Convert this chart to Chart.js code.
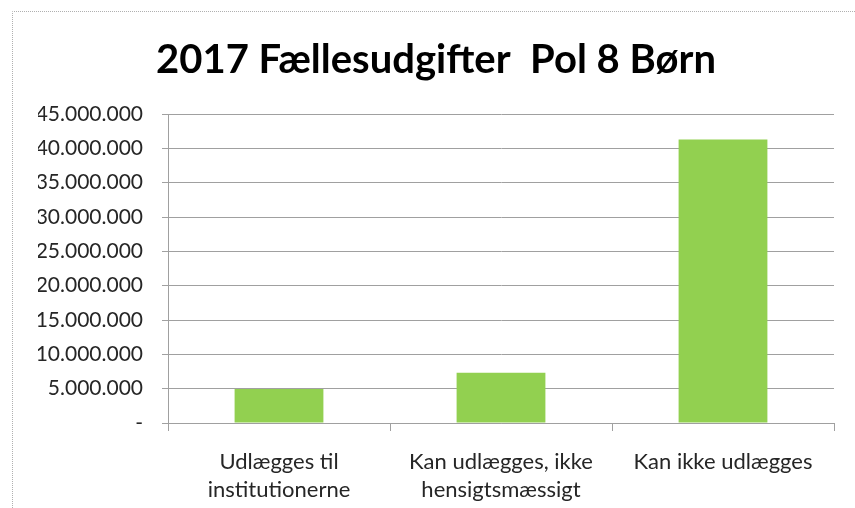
<!DOCTYPE html>
<html>
<head>
<meta charset="utf-8">
<script src="https://cdn.jsdelivr.net/npm/chart.js@4"></script>
<style>
  html, body { margin: 0; padding: 0; background: #fff; }
  #wrap { width: 855px; height: 508px; position: relative; }
</style>
</head>
<body>
<div id="wrap"><canvas id="chart" width="855" height="508"></canvas></div>
<script>
// data
const categories = [
  ["Udlægges til", "institutionerne"],
  ["Kan udlægges, ikke", "hensigtsmæssigt"],
  ["Kan ikke udlægges"]
];
const amounts = [4950000, 7300000, 41300000];
const yMax = 45000000;
const yStep = 5000000;

// dots as thousand separators, zero shown as "-"
function fmt(v) {
  if (v === 0) return "-";
  return String(v).replace(/\B(?=(\d{3})+(?!\d))/g, ".");
}

// dotted frame like the excel chart border
const frame = {
  id: "frame",
  beforeDraw(chart) {
    const ctx = chart.ctx;
    ctx.save();
    ctx.strokeStyle = "#b0b0b0";
    ctx.lineWidth = 1;
    ctx.setLineDash([1, 1]);
    ctx.beginPath();
    ctx.moveTo(12.5, 508);
    ctx.lineTo(12.5, 11.5);
    ctx.lineTo(855, 11.5);
    ctx.stroke();
    ctx.restore();
  }
};

const gridCol = "#a0a0a0";

new Chart(document.getElementById("chart").getContext("2d"), {
  type: "bar",
  data: {
    labels: categories,
    datasets: [
      {
        data: amounts,
        backgroundColor: "#92D050",
        barPercentage: 0.4,
        categoryPercentage: 1.0
      }
    ]
  },
  options: {
    responsive: false,
    animation: false,
    layout: { padding: { left: 38, right: 21, top: 0, bottom: 0 } },
    plugins: {
      legend: { display: false },
      tooltip: { enabled: false },
      title: {
        display: true,
        text: "2017 Fællesudgifter  Pol 8 Børn",
        color: "#000",
        font: { family: "Lato", size: 40, weight: "bold" },
        padding: { top: 36, bottom: 30 }
      }
    },
    scales: {
      x: {
        grid: {
          display: true,
          offset: true,
          drawOnChartArea: false,
          tickLength: 8,
          color: gridCol
        },
        border: { color: gridCol },
        ticks: {
          color: "#262626",
          padding: 17,
          maxRotation: 0,
          font: { family: "Lato", size: 22, lineHeight: 1.27 }
        },
        afterFit: (scale) => { scale.height = 85; }
      },
      y: {
        min: 0,
        max: yMax,
        grid: { color: gridCol, tickLength: 6 },
        border: { color: gridCol },
        ticks: {
          stepSize: yStep,
          color: "#262626",
          padding: 19,
          font: { family: "Lato", size: 21 },
          callback: (v) => fmt(v)
        },
        afterFit: (scale) => { scale.width = 130; }
      }
    }
  },
  plugins: [frame]
});
</script>
</body>
</html>
